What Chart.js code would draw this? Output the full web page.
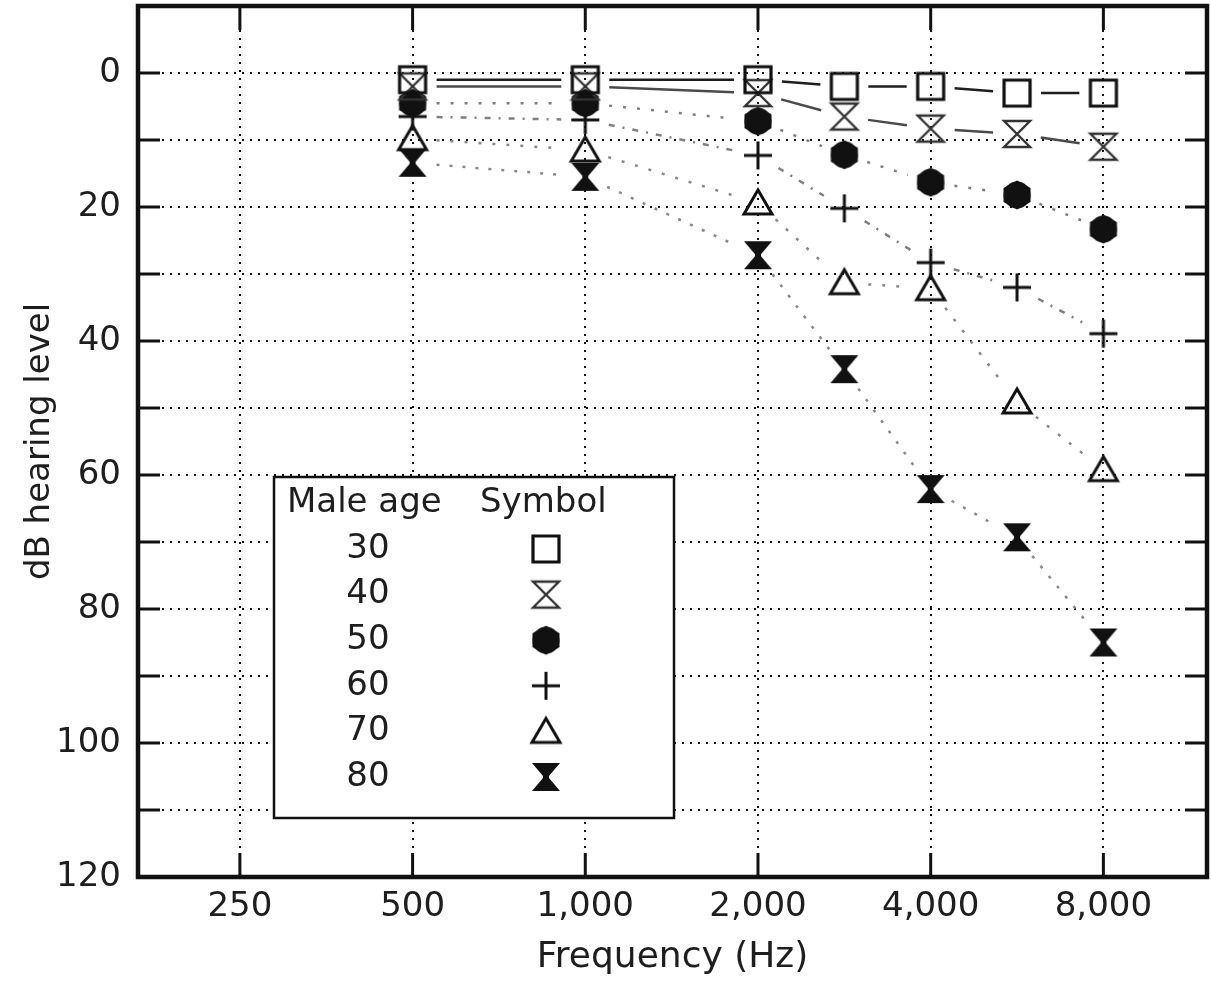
<!DOCTYPE html>
<html>
<head>
<meta charset="utf-8">
<script src="https://cdn.jsdelivr.net/npm/chart.js@4.4.1/dist/chart.umd.min.js"></script>
<style>
html,body{margin:0;padding:0;background:#fff;}
#wrap{width:1211px;height:981px;position:relative;}
</style>
</head>
<body>
<div id="wrap"><canvas id="c" width="1211" height="981"></canvas></div>
<script>
// ---- data ----
const frequencies = [500, 1000, 2000, 3000, 4000, 6000, 8000];
const xTickFrequencies = [250, 500, 1000, 2000, 4000, 8000];
const ageLabels = ['30', '40', '50', '60', '70', '80'];
const male30 = [1, 1, 1, 2, 2, 3, 3];
const male40 = [2, 2, 3, 6.5, 8.3, 9.1, 11];
const male50 = [4.5, 4.5, 7.2, 12.2, 16.3, 18.2, 23.3];
const male60 = [6.5, 7, 12.3, 20.2, 28.3, 32, 38.9];
const male70 = [9.8, 11.5, 19.4, 31.3, 32.2, 49.1, 59.2];
const male80 = [13.4, 15.5, 27.2, 44.2, 62.1, 69.3, 85];
const yMin = -10, yMax = 120, yStep = 10, yLabelStep = 20;

// audiogram position: octaves above 250 Hz, inter-octave frequencies at half-octave
const audPos = f => Math.round(2 * Math.log2(f / 250)) / 2;

// ---- styles ----
const FONT = '"DejaVu Sans", "Liberation Sans", Arial, sans-serif';
const TEXT = '#1e1e1e';
const markerTypes = ['square', 'hourglassOpen', 'hexagon', 'plus', 'triangle', 'hourglassFilled'];
const lineColors = ['#1e1e1e', '#4a4a4a', '#808080', '#808080', '#8a8a8a', '#8a8a8a'];
const lineDashes = [[], [], [3, 11], [6, 8, 2, 8], [3, 11], [3, 10]];
const POINT_GAP = 24;

// dash array for one segment: blank gap at each end, pattern in between
function gapDash(seg, pattern) {
  const L = Math.hypot(seg.p1.x - seg.p0.x, seg.p1.y - seg.p0.y);
  const inner = Math.max(L - 2 * POINT_GAP, 0);
  const arr = [0, POINT_GAP];
  if (!pattern.length) { arr.push(inner, POINT_GAP + 10000); return arr; }
  let used = 0, k = 0;
  while (used < inner - 0.01) {
    const len = Math.min(pattern[k % pattern.length], inner - used);
    arr.push(len); used += len; k++;
  }
  if (k % 2 === 1) arr.push(POINT_GAP + 10000);
  else arr.push(0, POINT_GAP + 10000);
  return arr;
}

function makeMarker(type) {
  const s = 36;
  const c = document.createElement('canvas');
  c.width = s; c.height = s;
  const g = c.getContext('2d');
  g.translate(s / 2, s / 2);
  g.strokeStyle = '#111'; g.fillStyle = '#111'; g.lineWidth = 3;
  g.beginPath();
  if (type === 'square') {
    g.lineWidth = 3.2;
    g.rect(-13, -13, 26, 26); g.stroke();
  } else if (type === 'hourglassOpen') {
    g.strokeStyle = '#333'; g.lineWidth = 2.4;
    g.moveTo(-13, -13); g.lineTo(13, -13); g.lineTo(-13, 13); g.lineTo(13, 13); g.closePath(); g.stroke();
  } else if (type === 'hourglassFilled') {
    g.moveTo(-14, -14); g.lineTo(14, -14); g.lineTo(3, -1); g.lineTo(3, 1); g.lineTo(14, 14);
    g.lineTo(-14, 14); g.lineTo(-3, 1); g.lineTo(-3, -1); g.closePath(); g.fill();
  } else if (type === 'hexagon') {
    g.moveTo(0, -14.5); g.lineTo(13.5, -7); g.lineTo(13.5, 7); g.lineTo(0, 14.5); g.lineTo(-13.5, 7); g.lineTo(-13.5, -7); g.closePath(); g.fill();
    g.beginPath(); g.arc(0, 0, 13.5, 0, Math.PI * 2); g.fill();
  } else if (type === 'plus') {
    g.moveTo(-14, 0); g.lineTo(14, 0); g.moveTo(0, -14); g.lineTo(0, 14); g.stroke();
  } else if (type === 'triangle') {
    g.lineJoin = 'miter';
    g.moveTo(0, -13); g.lineTo(14, 11); g.lineTo(-14, 11); g.closePath(); g.stroke();
  }
  return c;
}
const markers = markerTypes.map(makeMarker);
const series = [male30, male40, male50, male60, male70, male80];

const datasets = series.map((vals, i) => ({
  label: ageLabels[i],
  data: frequencies.map((f, j) => ({ x: audPos(f), y: vals[j] })),
  showLine: true,
  borderColor: lineColors[i],
  borderWidth: 2.5,
  borderDash: lineDashes[i],
  segment: { borderDash: seg => gapDash(seg, lineDashes[i]) },
  pointStyle: markers[i],
  pointRadius: 14,
  pointHoverRadius: 14,
  tension: 0,
  fill: false,
  clip: false
}));

// ---- plugins ----
const ageTablePlugin = {
  id: 'ageTable',
  afterDraw(chart) {
    const { ctx, chartArea: ca } = chart;
    const x0 = ca.left + 136, y0 = ca.top + 471, w = 400, h = 341;
    ctx.save();
    ctx.fillStyle = '#fff';
    ctx.fillRect(x0, y0, w, h);
    ctx.strokeStyle = '#111'; ctx.lineWidth = 2.5;
    ctx.strokeRect(x0, y0, w, h);
    ctx.font = '34px ' + FONT;
    ctx.fillStyle = TEXT;
    ctx.textBaseline = 'middle';
    ctx.textAlign = 'left';
    ctx.fillText('Male age', x0 + 13, y0 + 26);
    ctx.fillText('Symbol', x0 + 206, y0 + 26);
    chart.data.datasets.forEach((ds, i) => {
      const cy = y0 + 72 + i * 45.6;
      ctx.textAlign = 'center';
      ctx.fillText(ds.label, x0 + 94, cy);
      const m = ds.pointStyle;
      ctx.drawImage(m, x0 + 272 - m.width / 2, cy - m.height / 2);
    });
    ctx.restore();
  }
};

const framePlugin = {
  id: 'frame',
  afterDraw(chart) {
    const { ctx, chartArea: a, scales: { x, y } } = chart;
    ctx.save();
    ctx.strokeStyle = '#111';
    ctx.lineWidth = 3;
    const line = (x1, y1, x2, y2) => { ctx.beginPath(); ctx.moveTo(x1, y1); ctx.lineTo(x2, y2); ctx.stroke(); };
    y.ticks.forEach(t => {
      const py = y.getPixelForValue(t.value);
      line(a.left, py, a.left + 22, py);
      line(a.right, py, a.right - 22, py);
    });
    x.ticks.forEach(t => {
      const px = x.getPixelForValue(t.value);
      line(px, a.top, px, a.top + 24);
      line(px, a.bottom, px, a.bottom - 24);
    });
    ctx.lineWidth = 4.5;
    ctx.strokeRect(a.left, a.top, a.right - a.left, a.bottom - a.top);
    ctx.restore();
  }
};

new Chart(document.getElementById('c'), {
  type: 'scatter',
  data: { datasets },
  options: {
    responsive: false,
    devicePixelRatio: 1,
    animation: false,
    events: [],
    layout: { autoPadding: false, padding: { top: 6, right: 4, bottom: 0, left: 0 } },
    plugins: { legend: { display: false }, tooltip: { enabled: false } },
    scales: {
      x: {
        type: 'linear',
        min: -0.59, max: 5.6,
        afterBuildTicks: s => { s.ticks = xTickFrequencies.map(f => ({ value: audPos(f) })); },
        afterFit: s => { s.height = 104; s.paddingLeft = 0; s.paddingRight = 0; s.paddingTop = 0; s.paddingBottom = 0; },
        ticks: {
          callback: (v, idx) => xTickFrequencies[idx].toLocaleString('en-US'),
          font: { family: FONT, size: 34 }, color: TEXT, padding: 10, maxRotation: 0, autoSkip: false
        },
        grid: { color: '#111', lineWidth: 2, drawTicks: false },
        border: { display: false, dash: [2, 6] },
        title: { display: true, text: 'Frequency (Hz)', font: { family: FONT, size: 36 }, color: TEXT, padding: { top: 0, bottom: 2 } }
      },
      y: {
        type: 'linear',
        reverse: true,
        min: yMin, max: yMax,
        afterFit: s => { s.width = 138; s.paddingTop = 0; s.paddingBottom = 0; s.paddingLeft = 0; s.paddingRight = 0; },
        ticks: {
          stepSize: yStep,
          callback: v => (v % yLabelStep === 0 ? String(v) : ''),
          font: { family: FONT, size: 34 }, color: TEXT, padding: 17, autoSkip: false
        },
        grid: { color: '#111', lineWidth: 2, drawTicks: false },
        border: { display: false, dash: [2, 6] },
        title: { display: true, text: 'dB hearing level', font: { family: FONT, size: 34 }, color: TEXT, padding: { top: 20, bottom: 0 } }
      }
    }
  },
  plugins: [ageTablePlugin, framePlugin]
});
</script>
</body>
</html>
